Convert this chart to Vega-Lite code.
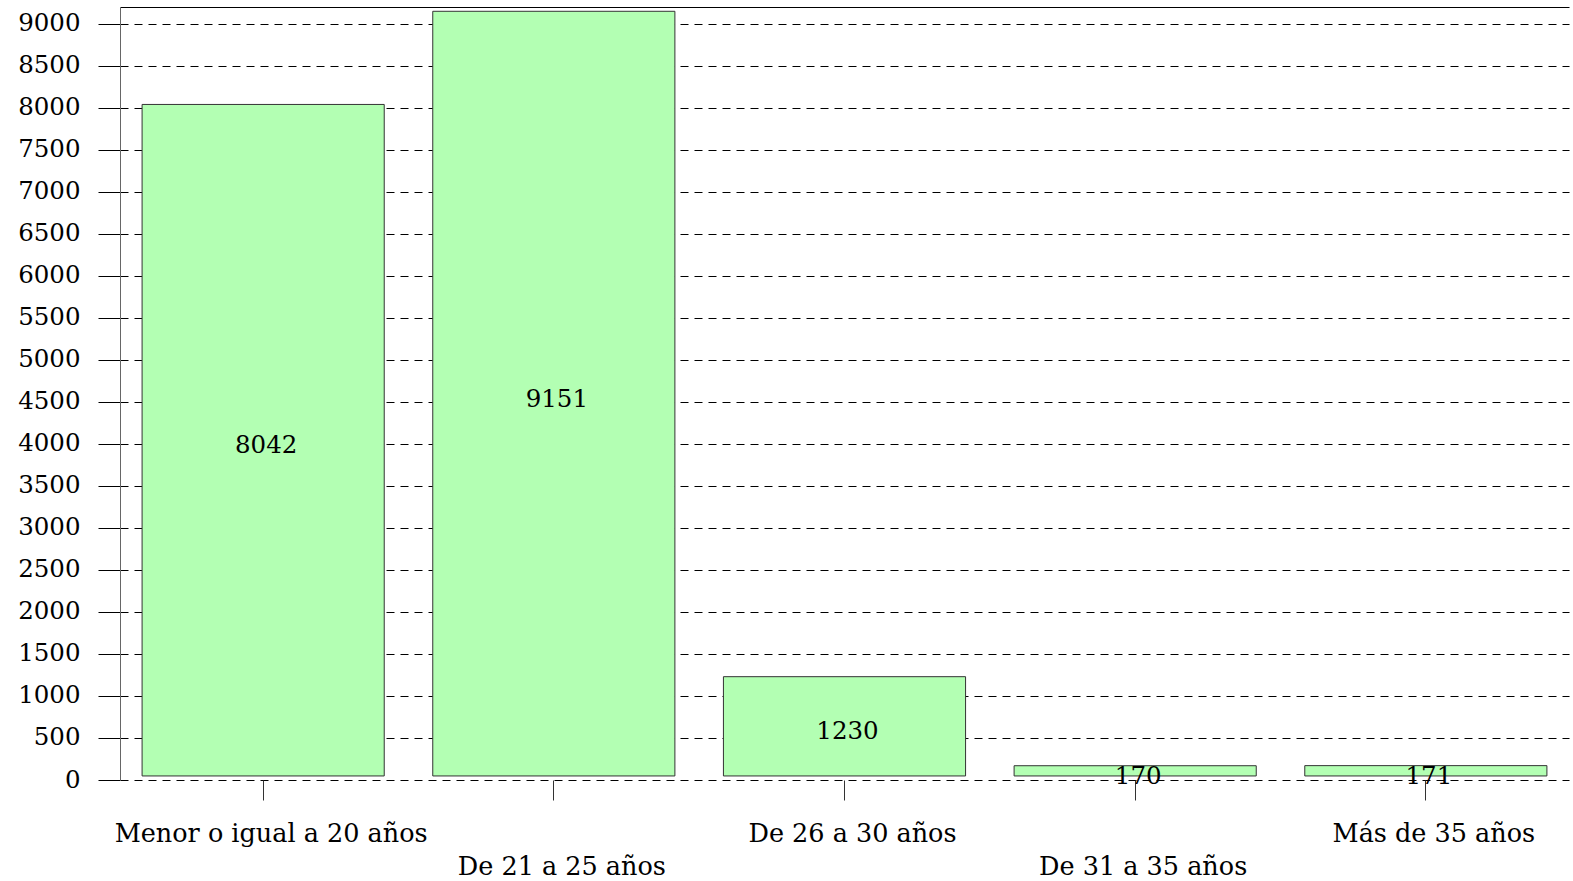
{
  "$schema": "https://vega.github.io/schema/vega-lite/v6.json",
  "width": 1449,
  "height": 773,
  "autosize": {"type": "none"},
  "padding": {"left": 120, "top": 7, "right": 4, "bottom": 101},
  "background": "white",
  "config": {
    "view": {"stroke": null},
    "font": "DejaVu Serif",
    "axis": {"labelFont": "DejaVu Serif", "labelColor": "black", "title": null}
  },
  "data": {
    "values": [
      {"grupo": "Menor o igual a 20 años", "valor": 8042},
      {"grupo": "De 21 a 25 años", "valor": 9151},
      {"grupo": "De 26 a 30 años", "valor": 1230},
      {"grupo": "De 31 a 35 años", "valor": 170},
      {"grupo": "Más de 35 años", "valor": 171}
    ]
  },
  "layer": [
    {
      "mark": {"type": "bar", "fill": "#b3ffb3", "stroke": "#333333", "strokeWidth": 1},
      "encoding": {
        "x": {
          "field": "grupo", "type": "nominal", "sort": null,
          "scale": {"paddingInner": 0.167, "paddingOuter": 0.076},
          "axis": {
            "orient": "bottom", "title": null, "grid": false, "domain": false,
            "ticks": true, "tickColor": "#333333", "tickSize": 20, "tickWidth": 1,
            "labelAngle": 0, "labelFontSize": 25.5, "labelPadding": 21, "labelLineHeight": 33,
            "labelOffset": 8,
            "labelOverlap": false, "labelBound": false, "labelLimit": 0,
            "labelExpr": "(datum.value == 'De 21 a 25 años' || datum.value == 'De 31 a 35 años') ? ['', datum.label] : datum.label"
          }
        },
        "y": {
          "field": "valor", "type": "quantitative",
          "scale": {"domain": [0, 9202], "nice": false, "zero": true},
          "axis": {
            "title": null, "format": "d",
            "values": [0, 500, 1000, 1500, 2000, 2500, 3000, 3500, 4000, 4500, 5000, 5500, 6000, 6500, 7000, 7500, 8000, 8500, 9000],
            "grid": true, "gridDash": [8, 6], "gridColor": "black", "gridWidth": 1,
            "domain": true, "domainColor": "#666666", "domainWidth": 1,
            "ticks": true, "tickColor": "black", "tickSize": 22, "tickWidth": 1,
            "labelFontSize": 24.5, "labelPadding": 18, "labelOverlap": false
          }
        },
        "y2": {"datum": 48}
      }
    },
    {
      "transform": [{"calculate": "datum.valor / 2", "as": "mitad"}],
      "mark": {"type": "text", "fontSize": 24.5, "font": "DejaVu Serif", "color": "black", "dy": 4, "dx": 3},
      "encoding": {
        "x": {
          "field": "grupo", "type": "nominal", "sort": null,
          "axis": {"orient": "top", "title": null, "grid": false, "domain": true, "domainColor": "black", "domainWidth": 1, "ticks": false, "labels": false}
        },
        "y": {"field": "mitad", "type": "quantitative"},
        "text": {"field": "valor", "type": "quantitative"}
      }
    }
  ],
  "resolve": {"axis": {"x": "independent"}}
}
